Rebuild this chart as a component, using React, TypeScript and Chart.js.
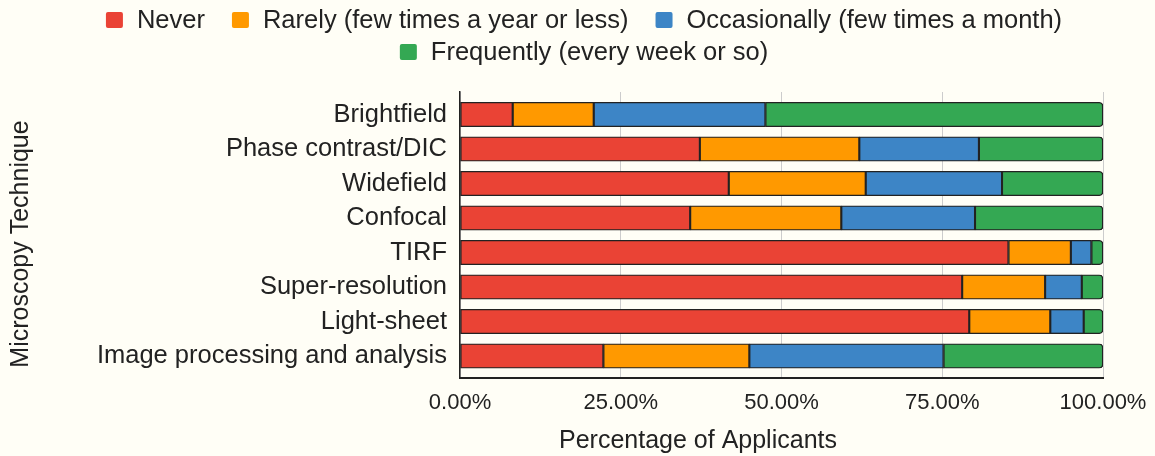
import React, { useEffect, useRef } from 'react';
import { Chart, registerables } from 'chart.js';

Chart.register(...registerables);

const categories = [
  'Brightfield',
  'Phase contrast/DIC',
  'Widefield',
  'Confocal',
  'TIRF',
  'Super-resolution',
  'Light-sheet',
  'Image processing and analysis',
];
const seriesLabels = [
  'Never',
  'Rarely (few times a year or less)',
  'Occasionally (few times a month)',
  'Frequently (every week or so)',
];
const never = [8.2, 37.3, 41.8, 35.8, 85.3, 78.1, 79.2, 22.3];
const rarely = [12.6, 24.8, 21.3, 23.5, 9.7, 12.9, 12.6, 22.7];
const occasionally = [26.7, 18.6, 21.2, 20.8, 3.2, 5.7, 5.2, 30.2];
const frequently = [52.5, 19.3, 15.7, 19.9, 1.8, 3.3, 3.0, 24.8];
const xTickValues = [0, 25, 50, 75, 100];
const xTitle = 'Percentage of Applicants';
const yTitle = 'Microscopy Technique';
const seriesColors = ['#ea4335', '#ff9900', '#3d85c6', '#34a853'];

const FONT = '"Liberation Sans", Arial, sans-serif';
const BG = '#fffef6';
const TEXT = '#222222';

const overlayPlugin = {
  id: 'overlayText',
  afterDraw(chart: any) {
    const ctx = chart.ctx as CanvasRenderingContext2D;
    ctx.save();
    // legend
    const fs = 25.5;
    ctx.font = `${fs}px ${FONT}`;
    ctx.textBaseline = 'middle';
    ctx.textAlign = 'left';
    const boxW = 17;
    const boxH = 16;
    const gapBT = 14;
    const gapItems = 27;
    const maxW = 1100;
    const items = chart.data.datasets.map((ds: any) => ({
      text: ds.label as string,
      color: ds.backgroundColor as string,
      w: boxW + gapBT + ctx.measureText(ds.label).width,
    }));
    const rows: any[][] = [[]];
    let cur = 0;
    items.forEach((it: any) => {
      const row = rows[rows.length - 1];
      const add = (row.length ? gapItems : 0) + it.w;
      if (row.length && cur + add > maxW) {
        rows.push([it]);
        cur = it.w;
      } else {
        row.push(it);
        cur += add;
      }
    });
    const centerX = 584;
    rows.forEach((row, r) => {
      const total = row.reduce((s: number, it: any, i: number) => s + it.w + (i ? gapItems : 0), 0);
      let x = centerX - total / 2;
      const y = 20 + r * 32;
      row.forEach((it: any) => {
        ctx.fillStyle = it.color;
        ctx.beginPath();
        (ctx as any).roundRect(x, y - boxH / 2, boxW, boxH, 2);
        ctx.fill();
        ctx.fillStyle = TEXT;
        ctx.fillText(it.text, x + boxW + gapBT, y + 1);
        x += it.w + gapItems;
      });
    });
    // axis titles
    ctx.font = `25px ${FONT}`;
    ctx.fillStyle = TEXT;
    ctx.textAlign = 'center';
    ctx.textBaseline = 'middle';
    ctx.fillText(xTitle, 698, 441);
    ctx.translate(21, 244);
    ctx.rotate(-Math.PI / 2);
    ctx.fillText(yTitle, 0, 0);
    ctx.restore();
  },
};

export default function App() {
  const ref = useRef<HTMLCanvasElement>(null);
  useEffect(() => {
    if (!ref.current) return;
    const datasets = [never, rarely, occasionally, frequently].map((d, i) => ({
      label: seriesLabels[i],
      data: d,
      backgroundColor: seriesColors[i],
      borderColor: '#222222',
      borderWidth: 1.4,
      borderSkipped: false as any,
      barThickness: 24.5,
      borderRadius: i === 3 ? { topLeft: 0, bottomLeft: 0, topRight: 4, bottomRight: 4 } : 0,
    }));
    const chart = new Chart(ref.current, {
      type: 'bar',
      data: { labels: categories, datasets },
      options: {
        indexAxis: 'y',
        responsive: false,
        animation: false,
        events: [],
        layout: { padding: { top: 92, right: 0, left: 0, bottom: 0 } },
        plugins: {
          legend: { display: false },
          tooltip: { enabled: false },
        },
        scales: {
          x: {
            type: 'linear',
            stacked: true,
            min: 0,
            max: 100,
            afterBuildTicks: (s: any) => {
              s.ticks = xTickValues.map((v) => ({ value: v }));
            },
            afterFit: (s: any) => {
              s.height = 78;
              s.paddingLeft = 0;
              s.paddingRight = 52;
            },
            ticks: {
              callback: (v: any) => Number(v).toFixed(2) + '%',
              font: { family: FONT, size: 22 },
              color: TEXT,
              padding: 12,
              maxRotation: 0,
            },
            grid: { color: '#cccccc', lineWidth: 1, drawTicks: false },
            border: { display: true, color: '#222222', width: 2 },
          },
          y: {
            type: 'category',
            stacked: true,
            afterFit: (s: any) => {
              s.width = 460;
              s.paddingTop = 0;
              s.paddingBottom = 0;
            },
            afterBuildTicks: (s: any) => {
              s._startValue = -0.652;
              s._valueRange = 8.29;
            },
            ticks: {
              font: { family: FONT, size: 25.5 },
              color: TEXT,
              padding: 13,
            },
            grid: { display: false, drawTicks: false },
            border: { display: true, color: '#222222', width: 1.5 },
          },
        },
      },
      plugins: [overlayPlugin],
    });
    return () => chart.destroy();
  }, []);
  return (
    <div style={{ position: 'fixed', left: 0, top: 0, width: 1155, height: 456, background: BG }}>
      <canvas ref={ref} width={1155} height={456} style={{ display: 'block' }} />
    </div>
  );
}
